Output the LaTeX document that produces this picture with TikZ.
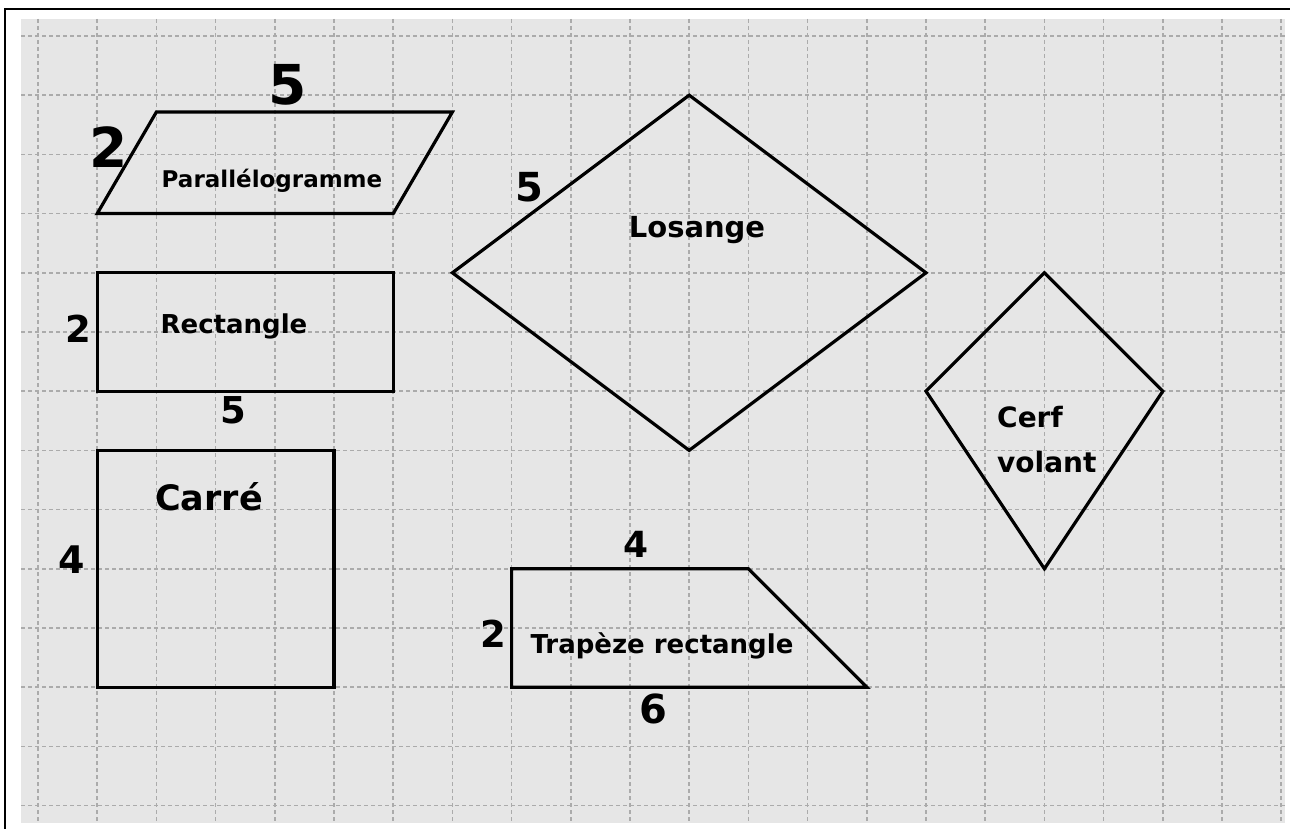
\documentclass[tikz,border=0pt]{standalone}
\usepackage{fontspec}
\setmainfont{DejaVu Sans}
\definecolor{bgc}{HTML}{E6E6E6}
\definecolor{gridc}{HTML}{ABABAB}
\begin{document}
\begin{tikzpicture}[x=1pt,y=-1pt,
  gridline/.style={gridc, line width=1.6pt, dash pattern=on 4pt off 3pt},
  figline/.style={black, line width=3.2pt, line join=miter},
  lbl/.style={font=\bfseries\fontsize{#1}{#1}\selectfont, inner sep=0pt, anchor=base},
]
\useasboundingbox (0,0) rectangle (1290,829);
\fill[white] (0,0) rectangle (1290,829);
\fill[bgc] (21,19) rectangle (1285,823);
\foreach \k in {0,...,21} \draw[gridline] ({38+59.2*\k},19) -- ({38+59.2*\k},823);
\foreach \k in {0,...,13} \draw[gridline] (21,{36+59.2*\k}) -- (1285,{36+59.2*\k});
\draw[line width=2pt] (5,829) -- (5,9) -- (1290,9);

\begin{scope}[shift={(38,36)}, x=59.2pt, y=-59.2pt]
  % Parallelogramme
  \coordinate (pA) at (1,3); \coordinate (pB) at (2,1.284);
  \coordinate (pC) at (7,1.284); \coordinate (pD) at (6,3);
  \draw[figline] (pA) -- (pB) -- (pC) -- (pD) -- cycle;
  % Rectangle
  \coordinate (rA) at (1,4); \coordinate (rC) at (6,6);
  \draw[figline] (rA) rectangle (rC);
  % Carre
  \coordinate (cA) at (1,7); \coordinate (cC) at (5,11);
  \draw[figline] (cA) rectangle (cC);
  % Losange
  \coordinate (lW) at (7,4); \coordinate (lN) at (11,1);
  \coordinate (lE) at (15,4); \coordinate (lS) at (11,7);
  \draw[figline] (lW) -- (lN) -- (lE) -- (lS) -- cycle;
  % Cerf volant
  \coordinate (kN) at (17,4); \coordinate (kE) at (19,6);
  \coordinate (kS) at (17,9); \coordinate (kW) at (15,6);
  \draw[figline] (kN) -- (kE) -- (kS) -- (kW) -- cycle;
  % Trapeze rectangle
  \coordinate (tA) at (8,9); \coordinate (tB) at (12,9);
  \coordinate (tC) at (14,11); \coordinate (tD) at (8,11);
  \draw[figline] (tA) -- (tB) -- (tC) -- (tD) -- cycle;
\end{scope}

% Parallelogramme labels
\node[lbl=55] (p5) at (288,105) {5};
\node[lbl=55] (p2) at (109,168) {2};
\node[lbl=23] (pname) at (272,188) {Parallélogramme};
% Losange labels
\node[lbl=40] (l5) at (529,202) {5};
\node[lbl=29] (lname) at (697,237) {Losange};
% Rectangle labels
\node[lbl=37] (r2) at (78,342) {2};
\node[lbl=26] (rname) at (234,333) {Rectangle};
\node[lbl=37] (r5) at (233,423) {5};
% Carre labels
\node[lbl=35] (cname) at (209,510) {Carré};
\node[lbl=38] (c4) at (72,573) {4};
% Cerf volant
\node[lbl=28, anchor=base west] (kname1) at (997,427) {Cerf};
\node[lbl=28, anchor=base west] (kname2) at (997,472) {volant};
% Trapeze labels
\node[lbl=36] (t4) at (636,557) {4};
\node[lbl=37] (t2) at (493,647) {2};
\node[lbl=26] (tname) at (662,653) {Trapèze rectangle};
\node[lbl=40] (t6) at (653,723) {6};
\end{tikzpicture}
\end{document}
